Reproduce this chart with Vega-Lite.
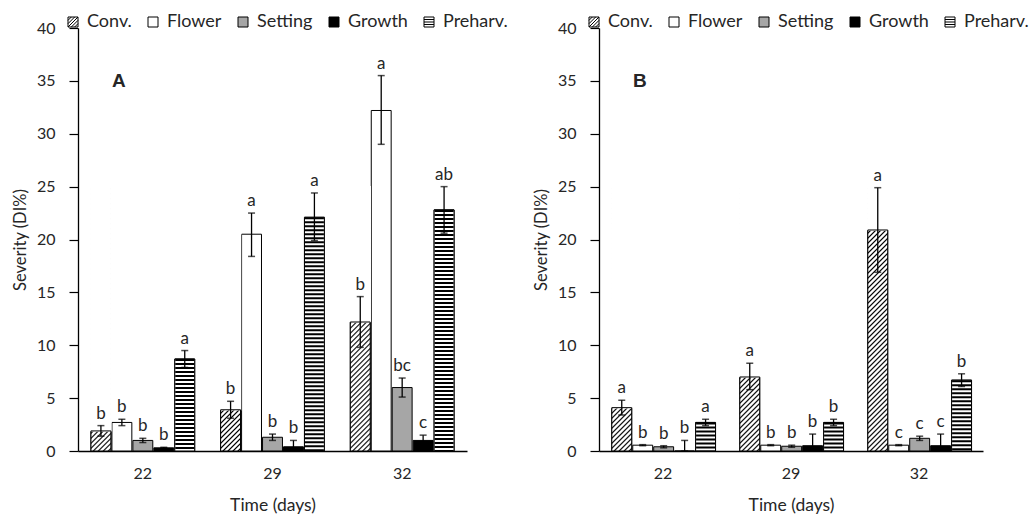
{
  "$schema": "https://vega.github.io/schema/vega-lite/v6.json",
  "background": "white",
  "padding": {"left": 12, "top": 13, "right": 5, "bottom": 5},
  "bounds": "flush",
  "spacing": 132,
  "data": {"values": [
    {"panel":"A","time":"22","treat":"Conv.","v":1.9,"lo":1.4,"hi":2.4,"letter":"b"},
    {"panel":"A","time":"22","treat":"Flower","v":2.7,"lo":2.4,"hi":3.0,"letter":"b"},
    {"panel":"A","time":"22","treat":"Setting","v":1.0,"lo":0.8,"hi":1.2,"letter":"b"},
    {"panel":"A","time":"22","treat":"Growth","v":0.3,"lo":0.25,"hi":0.35,"letter":"b"},
    {"panel":"A","time":"22","treat":"Preharv.","v":8.7,"lo":7.9,"hi":9.5,"letter":"a"},
    {"panel":"A","time":"29","treat":"Conv.","v":3.9,"lo":3.1,"hi":4.7,"letter":"b"},
    {"panel":"A","time":"29","treat":"Flower","v":20.5,"lo":18.4,"hi":22.5,"letter":"a"},
    {"panel":"A","time":"29","treat":"Setting","v":1.3,"lo":1.0,"hi":1.6,"letter":"b"},
    {"panel":"A","time":"29","treat":"Growth","v":0.4,"lo":0.0,"hi":1.0,"letter":"b"},
    {"panel":"A","time":"29","treat":"Preharv.","v":22.1,"lo":19.9,"hi":24.4,"letter":"a"},
    {"panel":"A","time":"32","treat":"Conv.","v":12.2,"lo":9.8,"hi":14.6,"letter":"b"},
    {"panel":"A","time":"32","treat":"Flower","v":32.2,"lo":29.0,"hi":35.5,"letter":"a"},
    {"panel":"A","time":"32","treat":"Setting","v":6.0,"lo":5.1,"hi":6.9,"letter":"bc"},
    {"panel":"A","time":"32","treat":"Growth","v":1.0,"lo":0.5,"hi":1.5,"letter":"c"},
    {"panel":"A","time":"32","treat":"Preharv.","v":22.8,"lo":20.6,"hi":25.0,"letter":"ab"},
    {"panel":"B","time":"22","treat":"Conv.","v":4.1,"lo":3.4,"hi":4.8,"letter":"a"},
    {"panel":"B","time":"22","treat":"Flower","v":0.55,"lo":0.5,"hi":0.6,"letter":"b"},
    {"panel":"B","time":"22","treat":"Setting","v":0.4,"lo":0.3,"hi":0.5,"letter":"b"},
    {"panel":"B","time":"22","treat":"Growth","v":0.0,"lo":0.0,"hi":1.0,"letter":"b"},
    {"panel":"B","time":"22","treat":"Preharv.","v":2.7,"lo":2.4,"hi":3.0,"letter":"a"},
    {"panel":"B","time":"29","treat":"Conv.","v":7.0,"lo":5.8,"hi":8.3,"letter":"a"},
    {"panel":"B","time":"29","treat":"Flower","v":0.55,"lo":0.5,"hi":0.6,"letter":"b"},
    {"panel":"B","time":"29","treat":"Setting","v":0.45,"lo":0.35,"hi":0.55,"letter":"b"},
    {"panel":"B","time":"29","treat":"Growth","v":0.5,"lo":0.0,"hi":1.6,"letter":"b"},
    {"panel":"B","time":"29","treat":"Preharv.","v":2.7,"lo":2.4,"hi":3.0,"letter":"b"},
    {"panel":"B","time":"32","treat":"Conv.","v":20.9,"lo":16.9,"hi":24.9,"letter":"a"},
    {"panel":"B","time":"32","treat":"Flower","v":0.55,"lo":0.5,"hi":0.6,"letter":"c"},
    {"panel":"B","time":"32","treat":"Setting","v":1.2,"lo":1.0,"hi":1.4,"letter":"c"},
    {"panel":"B","time":"32","treat":"Growth","v":0.5,"lo":0.0,"hi":1.6,"letter":"c"},
    {"panel":"B","time":"32","treat":"Preharv.","v":6.7,"lo":6.1,"hi":7.3,"letter":"b"}
  ]},
  "config": {
    "view": {"stroke": null},
    "font": "Lato",
    "axis": {"grid": false, "domainColor": "black", "domainWidth": 1.3, "tickColor": "black", "tickWidth": 1.2,
             "labelColor": "#262626", "titleColor": "#262626", "labelFontSize": 16, "titleFontSize": 16.5,
             "titleFontWeight": "normal", "labelFont": "Lato", "titleFont": "Lato"},
    "axisX": {"ticks": false, "labelPadding": 14, "titlePadding": 15, "labelAngle": 0, "titleFontSize": 17.5},
    "axisY": {"tickSize": 9, "tickCount": 8, "labelPadding": 14, "titlePadding": 8},
    "legend": {"orient": "none", "legendX": -14, "legendY": -15, "direction": "horizontal", "title": null,
               "symbolType": "square", "symbolSize": 100, "symbolStrokeColor": "black", "symbolStrokeWidth": 1,
               "symbolOpacity": 1, "symbolFillColor": "white",
               "labelFontSize": 18, "labelFont": "Lato", "labelColor": "#262626", "labelOffset": 5, "columnPadding": 12}
  },
  "resolve": {"scale": {"fill": "independent", "shape": "independent"}, "legend": {"fill": "independent", "shape": "independent"}},
  "hconcat": [
    {
      "width": 389, "height": 423,
      "transform": [{"filter": "datum.panel == 'A'"}],
      "encoding": {
        "x": {"field": "time", "type": "nominal", "sort": ["22","29","32"], "title": "Time (days)",
              "scale": {"paddingInner": 0.2, "paddingOuter": 0.1}},
        "xOffset": {"field": "treat", "type": "nominal", "sort": null,
                    "scale": {"domain": ["Conv.","Flower","Setting","Growth","Preharv."], "paddingInner": 0.05, "paddingOuter": 0}}
      },
      "layer": [
        {"transform": [{"filter": "false"}],
         "mark": {"type": "point", "filled": false, "stroke": "black", "strokeWidth": 1, "opacity": 1},
         "encoding": {
           "y": {"field": "v", "type": "quantitative", "title": "Severity (DI%)"},
           "fill": {"field": "treat", "type": "nominal", "sort": null,
                    "scale": {"domain": ["Conv.","Flower","Setting","Growth","Preharv."],
                              "range": ["white", "white", "#a6a6a6", "black", "white"]}},
           "shape": {"field": "treat", "type": "nominal", "sort": null,
                     "scale": {"domain": ["Conv.","Flower","Setting","Growth","Preharv."],
                               "range": ["M-1,-1H1V1H-1Z M-1,-0.33L-0.33,-1 M-1,0.33L0.33,-1 M-1,1L1,-1 M-0.33,1L1,-0.33 M0.33,1L1,0.33", "square", "square", "square", "M-1,-1H1V1H-1Z M-1,-0.5H1 M-1,0H1 M-1,0.5H1"]}}
         }},
        {"mark": {"type": "bar", "stroke": "black", "strokeWidth": 1},
         "encoding": {
           "y": {"field": "v", "type": "quantitative", "title": "Severity (DI%)", "scale": {"domain": [0, 40]}},
           "fill": {"field": "treat", "type": "nominal", "sort": null,
                    "scale": {"domain": ["Conv.","Flower","Setting","Growth","Preharv."],
                              "range": ["white", "white", "#a6a6a6", "black", "white"]}}
         }},
        {"transform": [{"filter": "datum.treat == 'Conv.'"}],
         "mark": {"type": "bar", "strokeWidth": 0, "fill": {"gradient":"linear","x1":0,"y1":0,"x2":0.0805,"y2":1.0692,"stops":[
{"offset":0,"color":"#fff"},{"offset":0.0055,"color":"#000"},{"offset":0.011,"color":"#fff"},
{"offset":0.0176,"color":"#fff"},{"offset":0.0231,"color":"#000"},{"offset":0.0286,"color":"#fff"},
{"offset":0.0352,"color":"#fff"},{"offset":0.0407,"color":"#000"},{"offset":0.0462,"color":"#fff"},
{"offset":0.0528,"color":"#fff"},{"offset":0.0583,"color":"#000"},{"offset":0.0638,"color":"#fff"},
{"offset":0.0704,"color":"#fff"},{"offset":0.0759,"color":"#000"},{"offset":0.0814,"color":"#fff"},
{"offset":0.088,"color":"#fff"},{"offset":0.0935,"color":"#000"},{"offset":0.099,"color":"#fff"},
{"offset":0.1056,"color":"#fff"},{"offset":0.1111,"color":"#000"},{"offset":0.1166,"color":"#fff"},
{"offset":0.1232,"color":"#fff"},{"offset":0.1287,"color":"#000"},{"offset":0.1342,"color":"#fff"},
{"offset":0.1408,"color":"#fff"},{"offset":0.1463,"color":"#000"},{"offset":0.1518,"color":"#fff"},
{"offset":0.1584,"color":"#fff"},{"offset":0.1639,"color":"#000"},{"offset":0.1694,"color":"#fff"},
{"offset":0.176,"color":"#fff"},{"offset":0.1815,"color":"#000"},{"offset":0.187,"color":"#fff"},
{"offset":0.1936,"color":"#fff"},{"offset":0.1991,"color":"#000"},{"offset":0.2046,"color":"#fff"},
{"offset":0.2112,"color":"#fff"},{"offset":0.2167,"color":"#000"},{"offset":0.2222,"color":"#fff"},
{"offset":0.2288,"color":"#fff"},{"offset":0.2343,"color":"#000"},{"offset":0.2398,"color":"#fff"},
{"offset":0.2464,"color":"#fff"},{"offset":0.2519,"color":"#000"},{"offset":0.2574,"color":"#fff"},
{"offset":0.264,"color":"#fff"},{"offset":0.2695,"color":"#000"},{"offset":0.275,"color":"#fff"},
{"offset":0.2816,"color":"#fff"},{"offset":0.2871,"color":"#000"},{"offset":0.2926,"color":"#fff"},
{"offset":0.2992,"color":"#fff"},{"offset":0.3047,"color":"#000"},{"offset":0.3102,"color":"#fff"},
{"offset":0.3168,"color":"#fff"},{"offset":0.3223,"color":"#000"},{"offset":0.3278,"color":"#fff"},
{"offset":0.3344,"color":"#fff"},{"offset":0.3399,"color":"#000"},{"offset":0.3454,"color":"#fff"},
{"offset":0.352,"color":"#fff"},{"offset":0.3575,"color":"#000"},{"offset":0.363,"color":"#fff"},
{"offset":0.3696,"color":"#fff"},{"offset":0.3751,"color":"#000"},{"offset":0.3806,"color":"#fff"},
{"offset":0.3872,"color":"#fff"},{"offset":0.3927,"color":"#000"},{"offset":0.3982,"color":"#fff"},
{"offset":0.4048,"color":"#fff"},{"offset":0.4103,"color":"#000"},{"offset":0.4158,"color":"#fff"},
{"offset":0.4224,"color":"#fff"},{"offset":0.4279,"color":"#000"},{"offset":0.4334,"color":"#fff"},
{"offset":0.44,"color":"#fff"},{"offset":0.4455,"color":"#000"},{"offset":0.451,"color":"#fff"},
{"offset":0.4576,"color":"#fff"},{"offset":0.4631,"color":"#000"},{"offset":0.4686,"color":"#fff"},
{"offset":0.4752,"color":"#fff"},{"offset":0.4807,"color":"#000"},{"offset":0.4862,"color":"#fff"},
{"offset":0.4928,"color":"#fff"},{"offset":0.4983,"color":"#000"},{"offset":0.5038,"color":"#fff"},
{"offset":0.5104,"color":"#fff"},{"offset":0.5159,"color":"#000"},{"offset":0.5214,"color":"#fff"},
{"offset":0.528,"color":"#fff"},{"offset":0.5335,"color":"#000"},{"offset":0.539,"color":"#fff"},
{"offset":0.5456,"color":"#fff"},{"offset":0.5511,"color":"#000"},{"offset":0.5566,"color":"#fff"},
{"offset":0.5632,"color":"#fff"},{"offset":0.5687,"color":"#000"},{"offset":0.5742,"color":"#fff"},
{"offset":0.5808,"color":"#fff"},{"offset":0.5863,"color":"#000"},{"offset":0.5918,"color":"#fff"},
{"offset":0.5984,"color":"#fff"},{"offset":0.6039,"color":"#000"},{"offset":0.6094,"color":"#fff"},
{"offset":0.616,"color":"#fff"},{"offset":0.6215,"color":"#000"},{"offset":0.627,"color":"#fff"},
{"offset":0.6336,"color":"#fff"},{"offset":0.6391,"color":"#000"},{"offset":0.6446,"color":"#fff"},
{"offset":0.6512,"color":"#fff"},{"offset":0.6567,"color":"#000"},{"offset":0.6622,"color":"#fff"},
{"offset":0.6688,"color":"#fff"},{"offset":0.6743,"color":"#000"},{"offset":0.6798,"color":"#fff"},
{"offset":0.6864,"color":"#fff"},{"offset":0.6919,"color":"#000"},{"offset":0.6974,"color":"#fff"},
{"offset":0.704,"color":"#fff"},{"offset":0.7095,"color":"#000"},{"offset":0.715,"color":"#fff"},
{"offset":0.7216,"color":"#fff"},{"offset":0.7271,"color":"#000"},{"offset":0.7326,"color":"#fff"},
{"offset":0.7392,"color":"#fff"},{"offset":0.7447,"color":"#000"},{"offset":0.7502,"color":"#fff"},
{"offset":0.7568,"color":"#fff"},{"offset":0.7623,"color":"#000"},{"offset":0.7678,"color":"#fff"},
{"offset":0.7744,"color":"#fff"},{"offset":0.7799,"color":"#000"},{"offset":0.7854,"color":"#fff"},
{"offset":0.792,"color":"#fff"},{"offset":0.7975,"color":"#000"},{"offset":0.803,"color":"#fff"},
{"offset":0.8096,"color":"#fff"},{"offset":0.8151,"color":"#000"},{"offset":0.8206,"color":"#fff"},
{"offset":0.8272,"color":"#fff"},{"offset":0.8327,"color":"#000"},{"offset":0.8382,"color":"#fff"},
{"offset":0.8448,"color":"#fff"},{"offset":0.8503,"color":"#000"},{"offset":0.8558,"color":"#fff"},
{"offset":0.8624,"color":"#fff"},{"offset":0.8679,"color":"#000"},{"offset":0.8734,"color":"#fff"},
{"offset":0.88,"color":"#fff"},{"offset":0.8855,"color":"#000"},{"offset":0.891,"color":"#fff"},
{"offset":0.8976,"color":"#fff"},{"offset":0.9031,"color":"#000"},{"offset":0.9086,"color":"#fff"},
{"offset":0.9152,"color":"#fff"},{"offset":0.9207,"color":"#000"},{"offset":0.9262,"color":"#fff"},
{"offset":0.9328,"color":"#fff"},{"offset":0.9383,"color":"#000"},{"offset":0.9438,"color":"#fff"},
{"offset":0.9504,"color":"#fff"},{"offset":0.9559,"color":"#000"},{"offset":0.9614,"color":"#fff"},
{"offset":0.968,"color":"#fff"},{"offset":0.9735,"color":"#000"},{"offset":0.979,"color":"#fff"},
{"offset":0.9856,"color":"#fff"},{"offset":0.9911,"color":"#000"},{"offset":0.9966,"color":"#fff"},
{"offset":1,"color":"#fff"}]}},
         "encoding": {"y": {"datum": 0, "type": "quantitative"}, "y2": {"datum": 25}}},
        {"transform": [{"filter": "datum.treat == 'Conv.'"}],
         "mark": {"type": "bar", "stroke": "white", "strokeWidth": 1.5, "fill": "white"},
         "encoding": {"y": {"field": "v", "type": "quantitative", "title": "Severity (DI%)"}, "y2": {"datum": 25}}},
        {"transform": [{"filter": "datum.treat == 'Conv.' || datum.treat == 'Preharv.'"}],
         "mark": {"type": "bar", "stroke": "black", "strokeWidth": 1},
         "encoding": {"y": {"field": "v", "type": "quantitative", "title": "Severity (DI%)"},
                      "fill": {"condition": {"test": "datum.treat == 'Preharv.'", "value": "white"}, "value": "transparent"}}},
        {"transform": [{"filter": "datum.treat == 'Preharv.'"}],
         "mark": {"type": "rule", "color": "black", "strokeWidth": 19, "strokeDash": [2, 2]},
         "encoding": {"y": {"field": "v", "type": "quantitative", "title": "Severity (DI%)"}, "y2": {"datum": 0}}},
        {"mark": {"type": "rule", "color": "black", "strokeWidth": 1.3},
         "encoding": {"y": {"field": "lo", "type": "quantitative", "title": "Severity (DI%)"}, "y2": {"field": "hi"}}},
        {"mark": {"type": "tick", "orient": "horizontal", "color": "black", "thickness": 1.5, "size": 7},
         "encoding": {"y": {"field": "hi", "type": "quantitative", "title": "Severity (DI%)"}}},
        {"mark": {"type": "tick", "orient": "horizontal", "color": "black", "thickness": 1.5, "size": 7},
         "encoding": {"y": {"field": "lo", "type": "quantitative", "title": "Severity (DI%)"}}},
        {"mark": {"type": "text", "baseline": "alphabetic", "dy": -7, "fontSize": 17, "font": "Lato", "color": "#262626"},
         "encoding": {"y": {"field": "hi", "type": "quantitative", "title": "Severity (DI%)"}, "text": {"field": "letter"}}},
        {"transform": [{"filter": "datum.time == '22' && datum.treat == 'Conv.'"}],
         "mark": {"type": "text", "baseline": "middle", "dx": 18, "fontSize": 19, "fontWeight": "bold", "font": "Liberation Sans", "color": "#262626"},
         "encoding": {"y": {"datum": 35, "type": "quantitative"}, "text": {"field": "panel"}}}
      ]
    },
    {
      "width": 384, "height": 423,
      "transform": [{"filter": "datum.panel == 'B'"}],
      "encoding": {
        "x": {"field": "time", "type": "nominal", "sort": ["22","29","32"], "title": "Time (days)",
              "scale": {"paddingInner": 0.2, "paddingOuter": 0.1}},
        "xOffset": {"field": "treat", "type": "nominal", "sort": null,
                    "scale": {"domain": ["Conv.","Flower","Setting","Growth","Preharv."], "paddingInner": 0.05, "paddingOuter": 0}}
      },
      "layer": [
        {"transform": [{"filter": "false"}],
         "mark": {"type": "point", "filled": false, "stroke": "black", "strokeWidth": 1, "opacity": 1},
         "encoding": {
           "y": {"field": "v", "type": "quantitative", "title": "Severity (DI%)"},
           "fill": {"field": "treat", "type": "nominal", "sort": null,
                    "scale": {"domain": ["Conv.","Flower","Setting","Growth","Preharv."],
                              "range": ["white", "white", "#a6a6a6", "black", "white"]}},
           "shape": {"field": "treat", "type": "nominal", "sort": null,
                     "scale": {"domain": ["Conv.","Flower","Setting","Growth","Preharv."],
                               "range": ["M-1,-1H1V1H-1Z M-1,-0.33L-0.33,-1 M-1,0.33L0.33,-1 M-1,1L1,-1 M-0.33,1L1,-0.33 M0.33,1L1,0.33", "square", "square", "square", "M-1,-1H1V1H-1Z M-1,-0.5H1 M-1,0H1 M-1,0.5H1"]}}
         }},
        {"mark": {"type": "bar", "stroke": "black", "strokeWidth": 1},
         "encoding": {
           "y": {"field": "v", "type": "quantitative", "title": "Severity (DI%)", "scale": {"domain": [0, 40]}},
           "fill": {"field": "treat", "type": "nominal", "sort": null,
                    "scale": {"domain": ["Conv.","Flower","Setting","Growth","Preharv."],
                              "range": ["white", "white", "#a6a6a6", "black", "white"]}}
         }},
        {"transform": [{"filter": "datum.treat == 'Conv.'"}],
         "mark": {"type": "bar", "strokeWidth": 0, "fill": {"gradient":"linear","x1":0,"y1":0,"x2":0.0805,"y2":1.0692,"stops":[
{"offset":0,"color":"#fff"},{"offset":0.0055,"color":"#000"},{"offset":0.011,"color":"#fff"},
{"offset":0.0176,"color":"#fff"},{"offset":0.0231,"color":"#000"},{"offset":0.0286,"color":"#fff"},
{"offset":0.0352,"color":"#fff"},{"offset":0.0407,"color":"#000"},{"offset":0.0462,"color":"#fff"},
{"offset":0.0528,"color":"#fff"},{"offset":0.0583,"color":"#000"},{"offset":0.0638,"color":"#fff"},
{"offset":0.0704,"color":"#fff"},{"offset":0.0759,"color":"#000"},{"offset":0.0814,"color":"#fff"},
{"offset":0.088,"color":"#fff"},{"offset":0.0935,"color":"#000"},{"offset":0.099,"color":"#fff"},
{"offset":0.1056,"color":"#fff"},{"offset":0.1111,"color":"#000"},{"offset":0.1166,"color":"#fff"},
{"offset":0.1232,"color":"#fff"},{"offset":0.1287,"color":"#000"},{"offset":0.1342,"color":"#fff"},
{"offset":0.1408,"color":"#fff"},{"offset":0.1463,"color":"#000"},{"offset":0.1518,"color":"#fff"},
{"offset":0.1584,"color":"#fff"},{"offset":0.1639,"color":"#000"},{"offset":0.1694,"color":"#fff"},
{"offset":0.176,"color":"#fff"},{"offset":0.1815,"color":"#000"},{"offset":0.187,"color":"#fff"},
{"offset":0.1936,"color":"#fff"},{"offset":0.1991,"color":"#000"},{"offset":0.2046,"color":"#fff"},
{"offset":0.2112,"color":"#fff"},{"offset":0.2167,"color":"#000"},{"offset":0.2222,"color":"#fff"},
{"offset":0.2288,"color":"#fff"},{"offset":0.2343,"color":"#000"},{"offset":0.2398,"color":"#fff"},
{"offset":0.2464,"color":"#fff"},{"offset":0.2519,"color":"#000"},{"offset":0.2574,"color":"#fff"},
{"offset":0.264,"color":"#fff"},{"offset":0.2695,"color":"#000"},{"offset":0.275,"color":"#fff"},
{"offset":0.2816,"color":"#fff"},{"offset":0.2871,"color":"#000"},{"offset":0.2926,"color":"#fff"},
{"offset":0.2992,"color":"#fff"},{"offset":0.3047,"color":"#000"},{"offset":0.3102,"color":"#fff"},
{"offset":0.3168,"color":"#fff"},{"offset":0.3223,"color":"#000"},{"offset":0.3278,"color":"#fff"},
{"offset":0.3344,"color":"#fff"},{"offset":0.3399,"color":"#000"},{"offset":0.3454,"color":"#fff"},
{"offset":0.352,"color":"#fff"},{"offset":0.3575,"color":"#000"},{"offset":0.363,"color":"#fff"},
{"offset":0.3696,"color":"#fff"},{"offset":0.3751,"color":"#000"},{"offset":0.3806,"color":"#fff"},
{"offset":0.3872,"color":"#fff"},{"offset":0.3927,"color":"#000"},{"offset":0.3982,"color":"#fff"},
{"offset":0.4048,"color":"#fff"},{"offset":0.4103,"color":"#000"},{"offset":0.4158,"color":"#fff"},
{"offset":0.4224,"color":"#fff"},{"offset":0.4279,"color":"#000"},{"offset":0.4334,"color":"#fff"},
{"offset":0.44,"color":"#fff"},{"offset":0.4455,"color":"#000"},{"offset":0.451,"color":"#fff"},
{"offset":0.4576,"color":"#fff"},{"offset":0.4631,"color":"#000"},{"offset":0.4686,"color":"#fff"},
{"offset":0.4752,"color":"#fff"},{"offset":0.4807,"color":"#000"},{"offset":0.4862,"color":"#fff"},
{"offset":0.4928,"color":"#fff"},{"offset":0.4983,"color":"#000"},{"offset":0.5038,"color":"#fff"},
{"offset":0.5104,"color":"#fff"},{"offset":0.5159,"color":"#000"},{"offset":0.5214,"color":"#fff"},
{"offset":0.528,"color":"#fff"},{"offset":0.5335,"color":"#000"},{"offset":0.539,"color":"#fff"},
{"offset":0.5456,"color":"#fff"},{"offset":0.5511,"color":"#000"},{"offset":0.5566,"color":"#fff"},
{"offset":0.5632,"color":"#fff"},{"offset":0.5687,"color":"#000"},{"offset":0.5742,"color":"#fff"},
{"offset":0.5808,"color":"#fff"},{"offset":0.5863,"color":"#000"},{"offset":0.5918,"color":"#fff"},
{"offset":0.5984,"color":"#fff"},{"offset":0.6039,"color":"#000"},{"offset":0.6094,"color":"#fff"},
{"offset":0.616,"color":"#fff"},{"offset":0.6215,"color":"#000"},{"offset":0.627,"color":"#fff"},
{"offset":0.6336,"color":"#fff"},{"offset":0.6391,"color":"#000"},{"offset":0.6446,"color":"#fff"},
{"offset":0.6512,"color":"#fff"},{"offset":0.6567,"color":"#000"},{"offset":0.6622,"color":"#fff"},
{"offset":0.6688,"color":"#fff"},{"offset":0.6743,"color":"#000"},{"offset":0.6798,"color":"#fff"},
{"offset":0.6864,"color":"#fff"},{"offset":0.6919,"color":"#000"},{"offset":0.6974,"color":"#fff"},
{"offset":0.704,"color":"#fff"},{"offset":0.7095,"color":"#000"},{"offset":0.715,"color":"#fff"},
{"offset":0.7216,"color":"#fff"},{"offset":0.7271,"color":"#000"},{"offset":0.7326,"color":"#fff"},
{"offset":0.7392,"color":"#fff"},{"offset":0.7447,"color":"#000"},{"offset":0.7502,"color":"#fff"},
{"offset":0.7568,"color":"#fff"},{"offset":0.7623,"color":"#000"},{"offset":0.7678,"color":"#fff"},
{"offset":0.7744,"color":"#fff"},{"offset":0.7799,"color":"#000"},{"offset":0.7854,"color":"#fff"},
{"offset":0.792,"color":"#fff"},{"offset":0.7975,"color":"#000"},{"offset":0.803,"color":"#fff"},
{"offset":0.8096,"color":"#fff"},{"offset":0.8151,"color":"#000"},{"offset":0.8206,"color":"#fff"},
{"offset":0.8272,"color":"#fff"},{"offset":0.8327,"color":"#000"},{"offset":0.8382,"color":"#fff"},
{"offset":0.8448,"color":"#fff"},{"offset":0.8503,"color":"#000"},{"offset":0.8558,"color":"#fff"},
{"offset":0.8624,"color":"#fff"},{"offset":0.8679,"color":"#000"},{"offset":0.8734,"color":"#fff"},
{"offset":0.88,"color":"#fff"},{"offset":0.8855,"color":"#000"},{"offset":0.891,"color":"#fff"},
{"offset":0.8976,"color":"#fff"},{"offset":0.9031,"color":"#000"},{"offset":0.9086,"color":"#fff"},
{"offset":0.9152,"color":"#fff"},{"offset":0.9207,"color":"#000"},{"offset":0.9262,"color":"#fff"},
{"offset":0.9328,"color":"#fff"},{"offset":0.9383,"color":"#000"},{"offset":0.9438,"color":"#fff"},
{"offset":0.9504,"color":"#fff"},{"offset":0.9559,"color":"#000"},{"offset":0.9614,"color":"#fff"},
{"offset":0.968,"color":"#fff"},{"offset":0.9735,"color":"#000"},{"offset":0.979,"color":"#fff"},
{"offset":0.9856,"color":"#fff"},{"offset":0.9911,"color":"#000"},{"offset":0.9966,"color":"#fff"},
{"offset":1,"color":"#fff"}]}},
         "encoding": {"y": {"datum": 0, "type": "quantitative"}, "y2": {"datum": 25}}},
        {"transform": [{"filter": "datum.treat == 'Conv.'"}],
         "mark": {"type": "bar", "stroke": "white", "strokeWidth": 1.5, "fill": "white"},
         "encoding": {"y": {"field": "v", "type": "quantitative", "title": "Severity (DI%)"}, "y2": {"datum": 25}}},
        {"transform": [{"filter": "datum.treat == 'Conv.' || datum.treat == 'Preharv.'"}],
         "mark": {"type": "bar", "stroke": "black", "strokeWidth": 1},
         "encoding": {"y": {"field": "v", "type": "quantitative", "title": "Severity (DI%)"},
                      "fill": {"condition": {"test": "datum.treat == 'Preharv.'", "value": "white"}, "value": "transparent"}}},
        {"transform": [{"filter": "datum.treat == 'Preharv.'"}],
         "mark": {"type": "rule", "color": "black", "strokeWidth": 19, "strokeDash": [2, 2]},
         "encoding": {"y": {"field": "v", "type": "quantitative", "title": "Severity (DI%)"}, "y2": {"datum": 0}}},
        {"mark": {"type": "rule", "color": "black", "strokeWidth": 1.3},
         "encoding": {"y": {"field": "lo", "type": "quantitative", "title": "Severity (DI%)"}, "y2": {"field": "hi"}}},
        {"mark": {"type": "tick", "orient": "horizontal", "color": "black", "thickness": 1.5, "size": 7},
         "encoding": {"y": {"field": "hi", "type": "quantitative", "title": "Severity (DI%)"}}},
        {"mark": {"type": "tick", "orient": "horizontal", "color": "black", "thickness": 1.5, "size": 7},
         "encoding": {"y": {"field": "lo", "type": "quantitative", "title": "Severity (DI%)"}}},
        {"mark": {"type": "text", "baseline": "alphabetic", "dy": -7, "fontSize": 17, "font": "Lato", "color": "#262626"},
         "encoding": {"y": {"field": "hi", "type": "quantitative", "title": "Severity (DI%)"}, "text": {"field": "letter"}}},
        {"transform": [{"filter": "datum.time == '22' && datum.treat == 'Conv.'"}],
         "mark": {"type": "text", "baseline": "middle", "dx": 18, "fontSize": 19, "fontWeight": "bold", "font": "Liberation Sans", "color": "#262626"},
         "encoding": {"y": {"datum": 35, "type": "quantitative"}, "text": {"field": "panel"}}}
      ]
    }
  ]
}
